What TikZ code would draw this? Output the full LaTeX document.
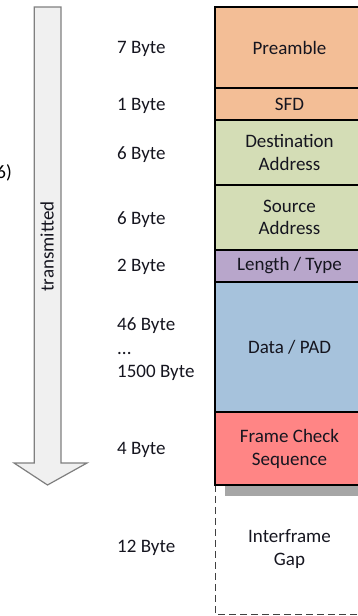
\documentclass[tikz,border=0pt]{standalone}
\usepackage{fontspec}
\setmainfont{Carlito}

\definecolor{txt}{HTML}{15151F}
\definecolor{preamblefill}{HTML}{F3BE96}
\definecolor{addrfill}{HTML}{D4DDB6}
\definecolor{typefill}{HTML}{B8A6CB}
\definecolor{datafill}{HTML}{A6C2DC}
\definecolor{fcsfill}{HTML}{FF8585}
\definecolor{shadowgray}{HTML}{A6A6A6}
\definecolor{arrowfill}{HTML}{F0F0F0}
\definecolor{arrowline}{HTML}{7F7F7F}

\begin{document}
\begin{tikzpicture}[x=1pt, y=-1pt,
  txtfont/.style={font=\fontsize{19}{23}\selectfont, text=txt},
  field/.style={txtfont, draw=black, line width=1.8pt, minimum width=149pt,
                inner sep=0pt, align=center},
  size/.style={txtfont, anchor=base west, inner sep=0pt}]
\useasboundingbox (0,0) rectangle (358,616);

% direction of transmission
\draw[arrowline, fill=arrowfill, line width=1.2pt, line join=miter]
  (34.3,7) -- (61,7) -- (61,463) -- (87,463) -- (47.5,485)
  -- (14,463) -- (34.3,463) -- cycle;
\node[txtfont, rotate=90, inner sep=0pt] (tx) at (47,246.5) {transmitted};

% caption fragment at the left margin
\node[txtfont, text=black, anchor=base east, inner sep=0pt] (cap) at (12,178) {6)};

% shadow under the frame
\fill[shadowgray] (225,485) rectangle (364,496);

% interframe gap
\node[txtfont, minimum width=149pt, minimum height=129pt, inner sep=0pt, align=center]
  (ifg) at (289.5,549.5) {Interframe\\Gap};
\draw[black!75, line width=1.3pt, dash pattern=on 7pt off 4pt]
  ([xshift=1pt]ifg.north west) -- ([xshift=1pt]ifg.south west) -- (ifg.south east);

% frame fields
\node[field, fill=preamblefill, minimum height=81pt] (pre) at (289.5,47.5) {Preamble};
\node[field, fill=preamblefill, minimum height=32pt] (sfd) at (289.5,104) {SFD};
\node[field, fill=addrfill, minimum height=65pt] (dst) at (289.5,152.5) {Destination\\[-0.5pt]Address};
\node[field, fill=addrfill, minimum height=65pt] (src) at (289.5,217.5) {Source\\[-0.5pt]Address};
\node[field, fill=typefill, minimum height=32pt] (len) at (289.5,266) {Length / Type};
\node[field, fill=datafill, minimum height=130pt] (data) at (289.5,347) {Data / PAD};
\node[field, fill=fcsfill, minimum height=73pt] (fcs) at (289.5,448.5) {Frame Check\\Sequence};

% field sizes
\node[size] (s1) at (117,53.3) {7 Byte};
\node[size] (s2) at (117,110.7) {1 Byte};
\node[size] (s3) at (117,159.3) {6 Byte};
\node[size] (s4) at (117,224) {6 Byte};
\node[size] (s5) at (117,271.7) {2 Byte};
\node[size] (s6a) at (117,330) {46 Byte};
\node[size] (s6b) at (117,354) {...};
\node[size] (s6c) at (117,377.7) {1500 Byte};
\node[size] (s7) at (117,454.3) {4 Byte};
\node[size] (s8) at (117,552) {12 Byte};
\end{tikzpicture}
\end{document}
